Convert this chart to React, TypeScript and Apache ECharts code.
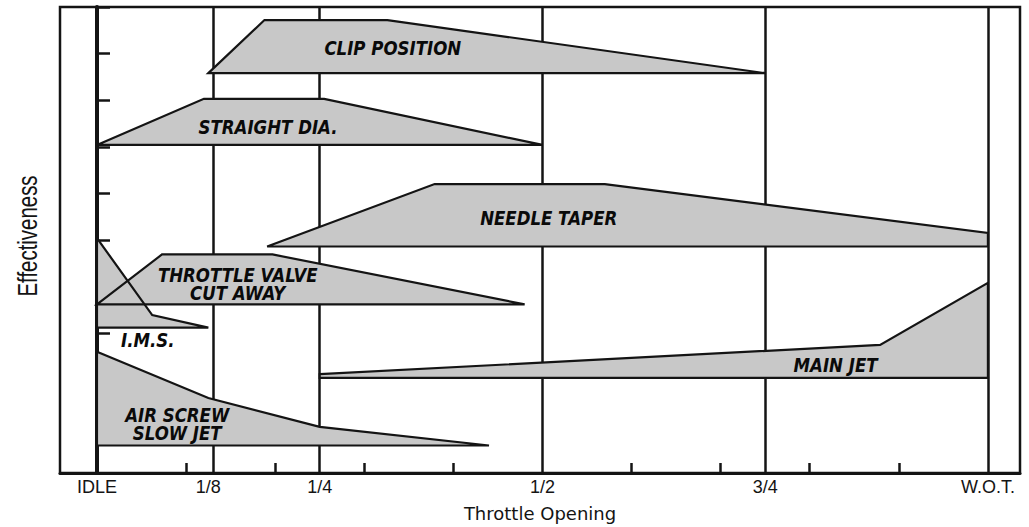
import React, { useEffect, useRef } from 'react';
import * as echarts from 'echarts';

// x axis: 0 = IDLE, 1 = W.O.T. ; y axis: effectiveness 0..10
const majorTicks = [0, 0.125, 0.25, 0.5, 0.75, 1];
const majorTickLabels = ['IDLE', '1/8', '1/4', '1/2', '3/4', 'W.O.T.'];
const minorTicks = [0.1, 0.2, 0.3, 0.4, 0.6, 0.7, 0.8, 0.9];

// Region outlines (throttle opening, effectiveness)
const clipPosition = [[0.125, 8.58], [0.188, 9.72], [0.326, 9.72], [0.75, 8.58]];
const straightDia = [[0, 7.04], [0.12, 8.03], [0.255, 8.03], [0.5, 7.04]];
const needleTaper = [[0.191, 4.86], [0.379, 6.2], [0.57, 6.2], [1, 5.15], [1, 4.86]];
const throttleValve = [[0, 3.62], [0.073, 4.69], [0.197, 4.69], [0.48, 3.62]];
const ims = [[0, 5.04], [0.062, 3.39], [0.125, 3.12], [0, 3.12]];
const airScrew = [[0, 2.6], [0.125, 1.61], [0.25, 0.99], [0.44, 0.59], [0, 0.59]];
const mainJet = [[0.25, 2.12], [0.879, 2.75], [1, 4.08], [1, 2.04], [0.25, 2.04]];

const shapes = [clipPosition, straightDia, needleTaper, throttleValve, ims, airScrew, mainJet];

const labelTexts = ['CLIP POSITION', 'STRAIGHT DIA.', 'NEEDLE TAPER', 'THROTTLE VALVE\nCUT AWAY', 'I.M.S.', 'AIR SCREW\nSLOW JET', 'MAIN JET'];
const labelX = [0.332, 0.192, 0.507, 0.158, 0.057, 0.09, 0.829];
const labelY = [9.12, 7.42, 5.47, 4.06, 2.85, 1.06, 2.32];

const FILL = '#c8c8c8';
const INK = '#141414';

export default function App() {
  const ref = useRef<HTMLDivElement>(null);
  useEffect(() => {
    document.body.style.margin = '0';
    const chart = echarts.init(ref.current!, undefined, { renderer: 'svg' });
    const option: any = {
      animation: false,
      backgroundColor: '#ffffff',
      grid: { left: 60, right: 9, top: 7, bottom: 54, show: true, borderColor: INK, borderWidth: 2.5, backgroundColor: 'transparent' },
      xAxis: {
        type: 'value',
        min: -0.0415,
        max: 1.036,
        name: 'Throttle Opening',
        nameLocation: 'middle',
        nameGap: 31,
        nameTextStyle: { fontFamily: 'DejaVu Sans', fontSize: 18, color: INK },
        axisLine: { show: true, lineStyle: { color: INK, width: 3 } },
        axisTick: { show: true, inside: true, length: 10, customValues: minorTicks, lineStyle: { color: INK, width: 2.5 } },
        axisLabel: {
          show: true,
          customValues: majorTicks,
          margin: 5,
          fontFamily: 'Liberation Sans',
          fontSize: 18,
          color: INK,
          formatter: (v: number) => {
            const i = majorTicks.findIndex((t) => Math.abs(t - v) < 1e-6);
            return i >= 0 ? majorTickLabels[i] : '';
          },
        },
        splitLine: { show: false },
      },
      yAxis: {
        type: 'value',
        min: 0,
        max: 10,
        interval: 1,
        axisLine: { show: true, lineStyle: { color: INK, width: 4 } },
        axisTick: { show: true, inside: true, length: 13, lineStyle: { color: INK, width: 2.5 } },
        axisLabel: { show: false },
        splitLine: { show: false },
      },
      graphic: [
        {
          type: 'text',
          x: 27,
          y: 236,
          rotation: Math.PI / 2,
          scaleX: 0.73,
          style: { text: 'Effectiveness', font: '28px "Liberation Sans"', fill: INK, align: 'center', verticalAlign: 'middle' },
        },
      ],
      series: [
        {
          type: 'line',
          z: 1,
          data: [],
          silent: true,
          markLine: {
            z: 1,
            silent: true,
            symbol: ['none', 'none'],
            label: { show: false },
            lineStyle: { color: INK, width: 2.5, type: 'solid' },
            emphasis: { disabled: true },
            data: majorTicks.map((v) => ({ xAxis: v })),
          },
        },
        {
          type: 'custom',
          z: 2,
          silent: true,
          data: shapes.map(() => [0, 0]),
          renderItem: (params: any, api: any) => ({
            type: 'polygon',
            shape: { points: shapes[params.dataIndex].map((p) => api.coord(p)) },
            style: { fill: FILL, stroke: 'none' },
          }),
        },
        {
          type: 'custom',
          z: 3,
          silent: true,
          data: shapes.map(() => [0, 0]),
          renderItem: (params: any, api: any) => ({
            type: 'polygon',
            shape: { points: shapes[params.dataIndex].map((p) => api.coord(p)) },
            style: { fill: 'none', stroke: INK, lineWidth: 2.2, lineJoin: 'miter' },
          }),
        },
        {
          type: 'custom',
          z: 4,
          silent: true,
          data: labelX.map((x, i) => [x, labelY[i]]),
          renderItem: (params: any, api: any) => {
            const c = api.coord([api.value(0), api.value(1)]);
            return {
              type: 'text',
              x: c[0],
              y: c[1],
              scaleX: 0.83,
              style: {
                text: labelTexts[params.dataIndex],
                font: 'italic bold 20px "DejaVu Sans"',
                fill: '#0a0a0a',
                align: 'center',
                verticalAlign: 'middle',
                lineHeight: 18,
              },
            };
          },
        },
      ],
    };
    chart.setOption(option);
    return () => chart.dispose();
  }, []);
  return <div ref={ref} style={{ width: 1029, height: 527 }} />;
}
